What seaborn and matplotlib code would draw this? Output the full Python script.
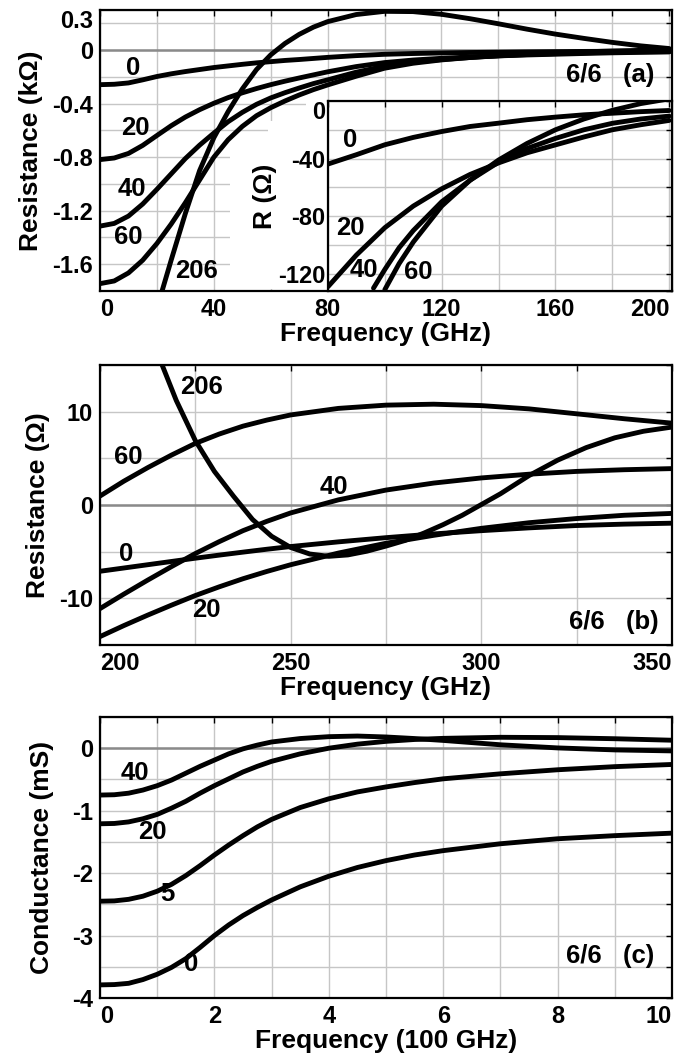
import matplotlib
matplotlib.use("Agg")
import matplotlib.pyplot as plt
import seaborn as sns
from matplotlib.ticker import MultipleLocator
from matplotlib.patches import Polygon

# ---- panel (a): main plot, resistance in kOhm ----
freq_a = [0, 5, 10, 15, 20, 25, 30, 35, 40, 45, 50, 55, 60, 65, 70, 75, 80,
          90, 100, 110, 120, 130, 140, 150, 160, 170, 180, 190, 200]
res_a_0 = [-0.258, -0.255, -0.245, -0.222, -0.197, -0.177, -0.16, -0.145, -0.13, -0.118,
           -0.106, -0.095, -0.086, -0.077, -0.07, -0.062, -0.054,
           -0.041, -0.031, -0.0253, -0.0212, -0.0177, -0.0154, -0.013, -0.0112, -0.0096,
           -0.0085, -0.0074, -0.0066]
res_a_20 = [-0.818, -0.806, -0.772, -0.712, -0.638, -0.565, -0.5, -0.445, -0.397, -0.355,
            -0.319, -0.287, -0.258, -0.232, -0.208, -0.185, -0.162,
            -0.123, -0.093, -0.074, -0.061, -0.051, -0.043, -0.036, -0.0305, -0.025,
            -0.02, -0.0165, -0.0135]
res_a_40 = [-1.315, -1.295, -1.24, -1.15, -1.04, -0.925, -0.81, -0.71, -0.62, -0.535,
            -0.465, -0.405, -0.357, -0.318, -0.283, -0.25, -0.222,
            -0.165, -0.12, -0.09, -0.07, -0.055, -0.0425, -0.033, -0.026, -0.02,
            -0.0155, -0.0125, -0.0105]
res_a_60 = [-1.745, -1.725, -1.665, -1.57, -1.445, -1.30, -1.14, -0.97, -0.80, -0.67,
            -0.57, -0.49, -0.43, -0.38, -0.335, -0.295, -0.26,
            -0.195, -0.135, -0.098, -0.073, -0.055, -0.041, -0.0295, -0.02, -0.0125,
            -0.0065, -0.0018, 0.0015]
freq_a_206 = [20, 25, 30, 35, 40, 45, 50, 55, 60, 65, 70, 75, 80,
              90, 100, 110, 120, 130, 140, 150, 160, 170, 180, 190, 200]
res_a_206 = [-1.93, -1.57, -1.22, -0.9, -0.655, -0.46, -0.29, -0.145, -0.035, 0.05, 0.118, 0.172, 0.213,
             0.266, 0.29, 0.288, 0.268, 0.235, 0.197, 0.157, 0.12, 0.088, 0.058, 0.032, 0.012]

# ---- panel (a): inset, R in Ohm ----
freq_in = [80, 90, 100, 110, 120, 130, 140, 150, 160, 170, 180, 190, 200]
r_in_0 = [-43.8, -37.3, -30.4, -25.3, -21.2, -17.7, -15.4, -13.0, -11.2, -9.6, -8.5, -7.4, -6.6]
r_in_20 = [-129, -107, -88, -73, -61, -51, -43, -36, -30.5, -25, -20, -16.5, -13.5]
freq_in_40 = [96, 100, 105, 110, 120, 130, 140, 150, 160, 170, 180, 190, 200]
r_in_40 = [-130, -117, -102, -90, -70, -55, -42.5, -33, -26, -20, -15.5, -12.5, -10.5]
freq_in_60 = [100, 105, 110, 120, 130, 140, 150, 160, 170, 180, 190, 200]
r_in_60 = [-131, -113, -98, -73, -55, -41, -29.5, -20, -12.5, -6.5, -1.8, 1.5]

# ---- panel (b) ----
freq_b = [200, 206.25, 212.5, 218.75, 225, 231.25, 237.5, 243.75, 250, 262.5, 275, 287.5,
          300, 312.5, 325, 337.5, 350]
res_b_0 = [-7.1, -6.75, -6.4, -6.05, -5.7, -5.37, -5.05, -4.74, -4.45, -3.95, -3.5, -3.1,
           -2.75, -2.45, -2.2, -2.05, -1.95]
res_b_20 = [-14.1, -12.92, -11.8, -10.73, -9.7, -8.77, -7.9, -7.12, -6.4, -5.15, -4.1, -3.25,
            -2.5, -1.9, -1.45, -1.1, -0.9]
res_b_40 = [-11.1, -9.55, -8.05, -6.6, -5.2, -3.93, -2.75, -1.75, -0.85, 0.55, 1.6, 2.35,
            2.9, 3.3, 3.6, 3.78, 3.9]
res_b_60 = [0.96, 2.55, 4.0, 5.35, 6.6, 7.6, 8.45, 9.1, 9.65, 10.35, 10.7, 10.8,
            10.65, 10.3, 9.77, 9.24, 8.77]
freq_b_206 = [214, 216, 220, 225, 230, 235, 240, 245, 250, 255, 260, 265, 270, 275, 280,
              285, 290, 295, 300, 305, 312.5, 320, 327.5, 335, 342.5, 350]
res_b_206 = [17.5, 15.3, 11.2, 6.9, 3.6, 0.95, -1.55, -3.35, -4.55, -5.25, -5.5, -5.35, -4.95,
             -4.4, -3.8, -3.0, -2.1, -1.1, 0.05, 1.2, 3.15, 4.8, 6.15, 7.2, 7.9, 8.35]

# ---- panel (c) ----
freq_c = [0, 0.25, 0.5, 0.75, 1, 1.25, 1.5, 1.75, 2, 2.25, 2.5, 2.75, 3, 3.5, 4, 4.5,
          5, 5.5, 6, 7, 8, 9, 10]
cond_c_0 = [-3.79, -3.785, -3.765, -3.705, -3.62, -3.51, -3.37, -3.19, -3.0, -2.83, -2.68,
            -2.55, -2.43, -2.22, -2.05, -1.91, -1.8, -1.71, -1.64, -1.53, -1.45, -1.4, -1.36]
cond_c_5 = [-2.45, -2.445, -2.42, -2.37, -2.29, -2.18, -2.04, -1.88, -1.71, -1.55, -1.4,
            -1.26, -1.14, -0.95, -0.81, -0.7, -0.62, -0.55, -0.49, -0.41, -0.345, -0.295, -0.26]
cond_c_20 = [-1.21, -1.205, -1.18, -1.13, -1.06, -0.96, -0.85, -0.72, -0.6, -0.49, -0.38,
             -0.29, -0.21, -0.09, 0.0, 0.065, 0.11, 0.14, 0.158, 0.175, 0.17, 0.152, 0.128]
cond_c_40 = [-0.75, -0.745, -0.72, -0.67, -0.6, -0.51, -0.4, -0.29, -0.19, -0.09, -0.01,
             0.05, 0.1, 0.155, 0.185, 0.195, 0.18, 0.155, 0.125, 0.055, 0.005, -0.027, -0.043]

sns.set_style("white")
plt.rcParams['font.family'] = ['Liberation Sans', 'DejaVu Sans']
plt.rcParams['font.weight'] = 'bold'
plt.rcParams['axes.labelweight'] = 'bold'
plt.rcParams['text.color'] = 'black'
plt.rcParams['axes.labelcolor'] = 'black'
plt.rcParams['xtick.color'] = 'black'
plt.rcParams['ytick.color'] = 'black'

W, H = 679, 1057
TICK_FS = 17
LABEL_FS = 19
NOTE_FS = 18.5


def box(left, top, right, bottom):
    # pixel box -> figure fraction rect
    return [left / W, 1 - bottom / H, (right - left) / W, (bottom - top) / H]


def curve(ax, x, y):
    sns.lineplot(x=x, y=y, ax=ax, color='black', linewidth=3.5,
                 estimator=None, sort=False, solid_joinstyle='round', zorder=4)


def setup(ax, xmaj, xlabels, xminor, ymaj, ylabels, yminor, xlim, ylim):
    ax.set_xlim(*xlim)
    ax.set_ylim(*ylim)
    ax.set_xticks(xmaj, xlabels)
    ax.set_yticks(ymaj, ylabels)
    ax.xaxis.set_minor_locator(MultipleLocator(xminor))
    ax.yaxis.set_minor_locator(MultipleLocator(yminor))
    ax.grid(True, which='both', color='#c6c6c6', linewidth=1.0)
    ax.set_axisbelow(True)
    ax.tick_params(which='both', direction='in', top=True, right=True,
                   length=4, width=1, colors='black', labelsize=TICK_FS, pad=5)
    for s in ax.spines.values():
        s.set_visible(True)
        s.set_color('black')
        s.set_linewidth(1.6)
    ax.axhline(0, color='#8a8a8a', linewidth=1.8, zorder=2)
    ax.set_xlabel('')
    ax.set_ylabel('')


fig = plt.figure(figsize=(W / 100, H / 100), dpi=100)

# ---------------- (a) ----------------
ax_a = fig.add_axes(box(100, 10, 672, 291))
setup(ax_a, [0, 40, 80, 120, 160, 200], ['0', '40', '80', '120', '160', '200'], 20,
      [-1.6, -1.2, -0.8, -0.4, 0, 0.3], ['-1.6', '-1.2', '-0.8', '-0.4', '0', '0.3'], 0.2,
      (0, 201), (-1.8, 0.3))
for fx, ry in [(freq_a, res_a_0), (freq_a, res_a_20), (freq_a, res_a_40),
               (freq_a, res_a_60), (freq_a_206, res_a_206)]:
    curve(ax_a, fx, ry)
ax_a.set_xlabel('Frequency (GHz)', fontsize=LABEL_FS, labelpad=1)
ax_a.set_ylabel('Resistance (k\u03a9)', fontsize=LABEL_FS)
ax_a.yaxis.set_label_coords(-0.10, 0.5)
ax_a.get_yticklabels()[-1].set_va('top')
ax_a.get_xticklabels()[0].set_ha('left')
ax_a.get_xticklabels()[-1].set_ha('right')
for txt, x, y in [('0', 11.7, -0.13), ('20', 12.3, -0.58), ('40', 11.1, -1.035),
                  ('60', 9.9, -1.40), ('206', 34, -1.65)]:
    ax_a.text(x, y, txt, fontsize=NOTE_FS, ha='center', va='center', zorder=6)
ax_a.text(0.970, 0.769, '6/6   (a)', transform=ax_a.transAxes, fontsize=NOTE_FS,
          ha='right', va='center', zorder=6)

# white area behind the inset labels
pts = [(230, 289), (230, 142), (268, 142), (268, 121), (306, 121), (306, 101),
       (328, 101), (328, 289)]
fig.add_artist(Polygon([(px / W, 1 - py / H) for px, py in pts], closed=True,
                       transform=fig.transFigure, facecolor='white',
                       edgecolor='none', zorder=2))

ax_in = fig.add_axes(box(328, 101, 672, 291))
ax_in.set_zorder(3)
setup(ax_in, [80, 120, 160, 200], ['', '', '', ''], 20,
      [-120, -80, -40, 0], ['-120', '-80', '-40', '0'], 20, (80, 201), (-132, 0))
ax_in.lines[-1].remove()  # no zero line in the inset
ax_in.tick_params(labelbottom=False, pad=2)
for fx, ry in [(freq_in, r_in_0), (freq_in, r_in_20), (freq_in_40, r_in_40),
               (freq_in_60, r_in_60)]:
    curve(ax_in, fx, ry)
ax_in.set_xlabel('')
ax_in.set_ylabel('R (\u03a9)', fontsize=LABEL_FS)
ax_in.yaxis.set_label_coords(-0.148, 0.5)
ax_in.get_yticklabels()[-1].set_va('top')
for txt, x, y in [('0', 87.7, -27), ('20', 87.7, -88), ('40', 92.6, -117.5),
                  ('60', 111.6, -119)]:
    ax_in.text(x, y, txt, fontsize=NOTE_FS, ha='center', va='center', zorder=6)

# ---------------- (b) ----------------
ax_b = fig.add_axes(box(100, 365, 672, 645))
setup(ax_b, [200, 250, 300, 350], ['200', '250', '300', '350'], 25,
      [-10, 0, 10], ['-10', '0', '10'], 5, (200, 350), (-15, 15))
for fx, ry in [(freq_b, res_b_0), (freq_b, res_b_20), (freq_b, res_b_40),
               (freq_b, res_b_60), (freq_b_206, res_b_206)]:
    curve(ax_b, fx, ry)
ax_b.set_xlabel('Frequency (GHz)', fontsize=LABEL_FS, labelpad=1)
ax_b.set_ylabel('Resistance (\u03a9)', fontsize=LABEL_FS)
ax_b.yaxis.set_label_coords(-0.087, 0.5)
ax_b.get_xticklabels()[0].set_ha('left')
ax_b.get_xticklabels()[-1].set_ha('right')
for txt, x, y in [('206', 226.7, 12.6), ('60', 207.4, 5.15), ('40', 261.4, 1.95),
                  ('0', 206.8, -5.3), ('20', 227.8, -11.2)]:
    ax_b.text(x, y, txt, fontsize=NOTE_FS, ha='center', va='center', zorder=6)
ax_b.text(0.976, 0.082, '6/6   (b)', transform=ax_b.transAxes, fontsize=NOTE_FS,
          ha='right', va='center', zorder=6)

# ---------------- (c) ----------------
ax_c = fig.add_axes(box(100, 717, 672, 998))
setup(ax_c, [0, 2, 4, 6, 8, 10], ['0', '2', '4', '6', '8', '10'], 1,
      [-4, -3, -2, -1, 0], ['-4', '-3', '-2', '-1', '0'], 0.5, (0, 10), (-4, 0.5))
for ry in [cond_c_0, cond_c_5, cond_c_20, cond_c_40]:
    curve(ax_c, freq_c, ry)
ax_c.set_xlabel('Frequency (100 GHz)', fontsize=LABEL_FS, labelpad=1)
ax_c.set_ylabel('Conductance (mS)', fontsize=LABEL_FS)
ax_c.yaxis.set_label_coords(-0.08, 0.5)
ax_c.get_xticklabels()[0].set_ha('left')
ax_c.get_xticklabels()[-1].set_ha('right')
for txt, x, y in [('40', 0.61, -0.39), ('20', 0.91, -1.335), ('5', 1.18, -2.33),
                  ('0', 1.59, -3.45)]:
    ax_c.text(x, y, txt, fontsize=NOTE_FS, ha='center', va='center', zorder=6)
ax_c.text(0.969, 0.149, '6/6   (c)', transform=ax_c.transAxes, fontsize=NOTE_FS,
          ha='right', va='center', zorder=6)

fig.savefig('out.png', dpi=100)
